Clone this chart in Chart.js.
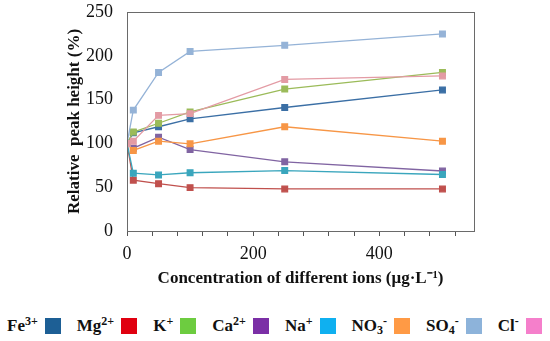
<!DOCTYPE html>
<html>
<head>
<meta charset="utf-8">
<script src="https://cdn.jsdelivr.net/npm/chart.js@4.4.1/dist/chart.umd.min.js"></script>
<style>
  html, body { margin: 0; padding: 0; background: #fff; }
  #wrap { position: relative; width: 550px; height: 300px; }
  #legend { position: absolute; top: 316px; left: 7px; display: flex; align-items: center;
            font-family: "Liberation Serif", "Times New Roman", serif; font-weight: bold; font-size: 17px; color: #111; }
  .item { display: flex; align-items: center; margin-right: 16px; white-space: nowrap; }
  .item .box { width: 16px; height: 16px; margin-left: 7px; display: inline-block; }
  sup, sub { font-size: 12px; line-height: 0; }
  sup { vertical-align: 6px; }
  sub { vertical-align: -3px; }
</style>
</head>
<body>
<div id="wrap"><canvas id="c" width="550" height="300"></canvas></div>
<div id="legend"></div>
<script>
// ---- data ----
const concentrations = [0, 10, 50, 100, 250, 500];
const ionLabels = ['Fe<sup>3+</sup>', 'Mg<sup>2+</sup>', 'K<sup>+</sup>', 'Ca<sup>2+</sup>', 'Na<sup>+</sup>', 'NO<sub>3</sub><sup>-</sup>', 'SO<sub>4</sub><sup>-</sup>', 'Cl<sup>-</sup>'];
const fe  = [100, 112, 119, 128, 141, 161];
const mg  = [100, 58, 54, 49.5, 48, 48];
const k   = [100, 113, 123, 136, 162, 181];
const ca  = [100, 94.5, 107, 93, 79, 68.5];
const na  = [100, 66, 64, 66.5, 69, 64.5];
const no3 = [100, 92, 102.5, 99.5, 119, 102.5];
const so4 = [100, 138, 181, 205, 212, 225];
const cl  = [100, 102.5, 132, 134, 173, 177];
const xTickLabels = [0, 200, 400];
const yTicks = [0, 50, 100, 150, 200, 250];

const seriesValues = [fe, mg, k, ca, na, no3, so4, cl];
const lineColors = ['#3b6fa5', '#c0504d', '#9bbb59', '#8064a2', '#3aa6bd', '#f79646', '#95b3d7', '#e39ba4'];
const legendColors = ['#1d5f95', '#e00010', '#6dcc40', '#7b2fa6', '#0fb0f0', '#ff9a45', '#8db3da', '#f57fcb'];

const datasets = seriesValues.map((vals, i) => ({
  label: ionLabels[i].replace(/<[^>]+>/g, ''),
  data: concentrations.map((x, j) => ({ x: x, y: vals[j] })),
  borderColor: lineColors[i], backgroundColor: lineColors[i], borderWidth: 1.3,
  pointStyle: 'rect', pointRadius: 4, pointHoverRadius: 4, tension: 0,
  order: seriesValues.length - 1 - i
}));

const frame = { id: 'frame', afterDraw(chart) {
    const a = chart.chartArea, ctx = chart.ctx;
    ctx.save(); ctx.strokeStyle = '#6a6a6a'; ctx.lineWidth = 1;
    ctx.strokeRect(Math.round(a.left) + 0.5, Math.round(a.top) + 0.5, Math.round(a.right - a.left), Math.round(a.bottom - a.top));
    ctx.restore();
} };

const serif = '"Liberation Serif", "Times New Roman", serif';
new Chart(document.getElementById('c'), {
  type: 'line', data: { datasets }, plugins: [frame],
  options: {
    responsive: false, animation: false,
    layout: { padding: { left: 58, right: 76, top: 12, bottom: 13 } },
    plugins: { legend: { display: false }, tooltip: { enabled: false } },
    scales: {
      x: { type: 'linear', min: 0, max: 550,
        afterFit: s => { s.height = 56; s.paddingLeft = 0; s.paddingRight = 0; },
        border: { color: '#555', width: 1 },
        grid: { display: true, drawOnChartArea: false, drawTicks: true, tickLength: 5, color: '#555' },
        ticks: { stepSize: 40, autoSkip: false, includeBounds: false, maxRotation: 0, padding: 9,
          color: '#111', font: { family: serif, size: 18, lineHeight: 1.0 },
          callback: v => xTickLabels.includes(v) ? String(v) : '' },
        title: { display: true, text: 'Concentration of different ions (μg·L⁻¹)', color: '#111',
                 font: { family: serif, size: 17, weight: 'bold', lineHeight: 1.0 }, padding: { top: 3, bottom: 0 } } },
      y: { min: 0, max: 250,
        afterBuildTicks: s => { s.ticks = yTicks.map(v => ({ value: v })); },
        afterFit: s => { s.width = 127 - 58; s.paddingTop = 0; s.paddingBottom = 0; },
        border: { color: '#555', width: 1 },
        grid: { display: false, drawTicks: false },
        ticks: { padding: 14, color: '#111', font: { family: serif, size: 18 } },
        title: { display: true, text: 'Relative  peak height (%)', color: '#111',
                 font: { family: serif, size: 17, weight: 'bold' }, padding: { top: 6, bottom: 4 } } }
    }
  }
});

const legend = document.getElementById('legend');
ionLabels.forEach((lab, i) => {
  const it = document.createElement('span'); it.className = 'item';
  it.innerHTML = '<span>' + lab + '</span><span class="box" style="background:' + legendColors[i] + '"></span>';
  legend.appendChild(it);
});
</script>
</body>
</html>
